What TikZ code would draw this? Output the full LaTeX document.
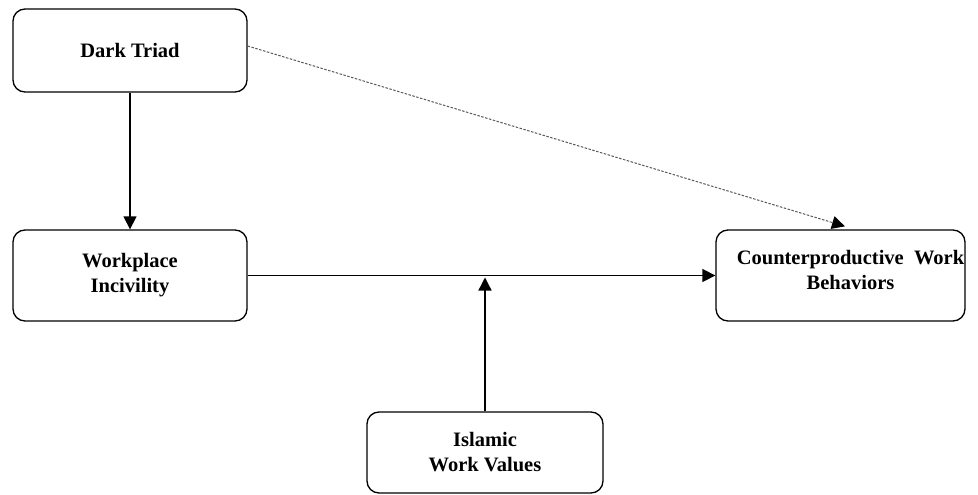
\documentclass[tikz,border=0pt]{standalone}
\usepackage{fontspec}
\setmainfont{Liberation Serif}
\usetikzlibrary{arrows.meta,calc}
\begin{document}
\begin{tikzpicture}[x=1pt,y=1pt,
  box/.style={draw=black, line width=1.3pt, rounded corners=12pt, align=center,
    font=\fontsize{20.5}{25}\selectfont\bfseries, inner sep=0pt},
  lbl/.style={align=center, font=\fontsize{20.5}{25}\selectfont\bfseries, inner sep=0pt},
  arr/.style={line width=1.3pt, -{Triangle[length=13pt,width=13pt]}},
  darr/.style={line width=1pt, draw=black!65, dash pattern=on 2.5pt off 1.5pt,
    -{Triangle[length=13pt,width=13pt,color=black]}}]
\useasboundingbox (0,0) rectangle (978,-495);
\node[box, minimum width=234pt, minimum height=83pt] (dt) at (130,-50.5) {Dark Triad};
\node[box, minimum width=234pt, minimum height=91pt] (wi) at (130,-275.5) {Workplace\\Incivility};
\node[box, minimum width=249pt, minimum height=91pt] (cwb) at (840.5,-275.5) {};
\node[lbl] (cwbt) at (850.5,-269.5) {Counterproductive\ \ Work\\Behaviors};
\node[box, minimum width=236pt, minimum height=81pt] (iwv) at (485,-452.5) {Islamic\\Work Values};
\coordinate (mid) at (iwv.north |- wi.east);
\draw[arr] (dt.south) -- (wi.north);
\draw[arr] (wi.east) -- (cwb.west);
\draw[arr] (iwv.north) -- ($(mid)+(0,-2)$);
\draw[darr] ($(dt.east)+(0,4.5)$) -- ($(cwb.north)+(4.5,3)$);
\end{tikzpicture}
\end{document}
